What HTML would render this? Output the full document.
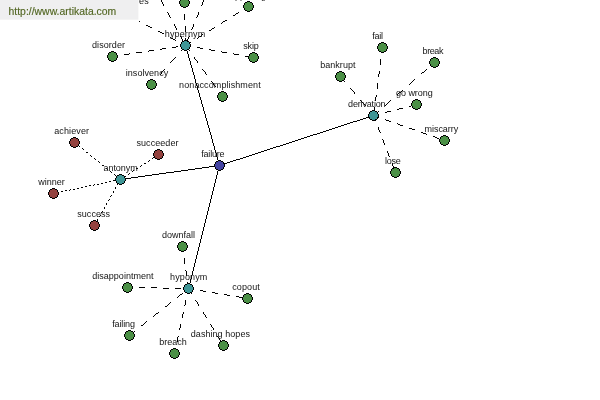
<!DOCTYPE html>
<html><head><meta charset="utf-8"><title>failure</title>
<style>
html,body{margin:0;padding:0;background:#fff;}
body{width:600px;height:400px;overflow:hidden;position:relative;}
svg{position:absolute;left:0;top:0;display:block;will-change:transform;}
text{font-family:"Liberation Sans",sans-serif;font-size:9px;fill:#141414;}
.u{font-size:10.4px;fill:#526622;stroke:#526622;stroke-width:0.15px;}
</style></head><body>
<svg width="600" height="400" viewBox="0 0 600 400">
<g fill="#000" shape-rendering="crispEdges">
<path d="M185 45h1v2h-1zM186 47h1v4h-1zM187 51h1v3h-1zM188 54h1v4h-1zM189 58h1v3h-1zM190 61h1v4h-1zM191 65h1v3h-1zM192 68h1v4h-1zM193 72h1v3h-1zM194 75h1v4h-1zM195 79h1v4h-1zM196 83h1v3h-1zM197 86h1v4h-1zM198 90h1v3h-1zM199 93h1v4h-1zM200 97h1v3h-1zM201 100h1v4h-1zM202 104h1v3h-1zM203 107h1v4h-1zM204 111h1v3h-1zM205 114h1v4h-1zM206 118h1v3h-1zM207 121h1v4h-1zM208 125h1v3h-1zM209 128h1v4h-1zM210 132h1v3h-1zM211 135h1v4h-1zM212 139h1v4h-1zM213 143h1v3h-1zM214 146h1v4h-1zM215 150h1v3h-1zM216 153h1v4h-1zM217 157h1v3h-1zM218 160h1v4h-1zM219 164h1v2h-1z"/>
<path d="M120 179h4v1h-4zM124 178h7v1h-7zM131 177h7v1h-7zM138 176h7v1h-7zM145 175h7v1h-7zM152 174h7v1h-7zM159 173h7v1h-7zM166 172h8v1h-8zM174 171h7v1h-7zM181 170h7v1h-7zM188 169h7v1h-7zM195 168h7v1h-7zM202 167h7v1h-7zM209 166h7v1h-7zM216 165h4v1h-4z"/>
<path d="M219 165h1v2h-1zM218 167h1v4h-1zM217 171h1v4h-1zM216 175h1v4h-1zM215 179h1v4h-1zM214 183h1v4h-1zM213 187h1v4h-1zM212 191h1v4h-1zM211 195h1v4h-1zM210 199h1v4h-1zM209 203h1v4h-1zM208 207h1v4h-1zM207 211h1v4h-1zM206 215h1v4h-1zM205 219h1v4h-1zM204 223h1v4h-1zM203 227h1v4h-1zM202 231h1v4h-1zM201 235h1v4h-1zM200 239h1v4h-1zM199 243h1v4h-1zM198 247h1v4h-1zM197 251h1v4h-1zM196 255h1v4h-1zM195 259h1v4h-1zM194 263h1v4h-1zM193 267h1v4h-1zM192 271h1v4h-1zM191 275h1v4h-1zM190 279h1v4h-1zM189 283h1v4h-1zM188 287h1v2h-1z"/>
<path d="M219 165h2v1h-2zM221 164h3v1h-3zM224 163h3v1h-3zM227 162h3v1h-3zM230 161h3v1h-3zM233 160h3v1h-3zM236 159h4v1h-4zM240 158h3v1h-3zM243 157h3v1h-3zM246 156h3v1h-3zM249 155h3v1h-3zM252 154h3v1h-3zM255 153h3v1h-3zM258 152h3v1h-3zM261 151h3v1h-3zM264 150h3v1h-3zM267 149h3v1h-3zM270 148h3v1h-3zM273 147h3v1h-3zM276 146h4v1h-4zM280 145h3v1h-3zM283 144h3v1h-3zM286 143h3v1h-3zM289 142h3v1h-3zM292 141h3v1h-3zM295 140h3v1h-3zM298 139h3v1h-3zM301 138h3v1h-3zM304 137h3v1h-3zM307 136h3v1h-3zM310 135h3v1h-3zM313 134h4v1h-4zM317 133h3v1h-3zM320 132h3v1h-3zM323 131h3v1h-3zM326 130h3v1h-3zM329 129h3v1h-3zM332 128h3v1h-3zM335 127h3v1h-3zM338 126h3v1h-3zM341 125h3v1h-3zM344 124h3v1h-3zM347 123h3v1h-3zM350 122h3v1h-3zM353 121h4v1h-4zM357 120h3v1h-3zM360 119h3v1h-3zM363 118h3v1h-3zM366 117h3v1h-3zM369 116h3v1h-3zM372 115h2v1h-2z"/>
<path d="M112 56h4v1h-4zM116 55h2v1h-2zM124 54h5v1h-5zM129 53h1v1h-1zM136 52h6v1h-6zM148 51h1v1h-1zM149 50h5v1h-5zM160 49h2v1h-2zM162 48h4v1h-4zM172 47h4v1h-4zM176 46h2v1h-2zM184 45h2v1h-2z"/>
<path d="M185 45h1v1h-1zM184 46h1v1h-1zM183 47h1v1h-1zM182 48h1v2h-1zM181 50h1v1h-1zM175 57h1v1h-1zM174 58h1v1h-1zM173 59h1v1h-1zM172 60h1v1h-1zM171 61h1v1h-1zM170 62h1v1h-1zM164 69h1v1h-1zM163 70h1v1h-1zM162 71h1v1h-1zM161 72h1v2h-1zM160 74h1v1h-1zM154 81h1v1h-1zM153 82h1v1h-1zM152 83h1v1h-1zM151 84h1v1h-1z"/>
<path d="M185 45h1v1h-1zM186 46h1v2h-1zM187 48h1v1h-1zM188 49h1v1h-1zM189 50h1v1h-1zM194 57h1v2h-1zM195 59h1v1h-1zM196 60h1v1h-1zM197 61h1v2h-1zM202 69h1v1h-1zM203 70h1v1h-1zM204 71h1v1h-1zM205 72h1v2h-1zM206 74h1v1h-1zM211 81h1v1h-1zM212 82h1v1h-1zM213 83h1v2h-1zM214 85h1v1h-1zM215 86h1v1h-1zM220 93h1v1h-1zM221 94h1v2h-1zM222 96h1v1h-1z"/>
<path d="M185 45h3v1h-3zM188 46h3v1h-3zM197 47h3v1h-3zM200 48h3v1h-3zM209 49h2v1h-2zM211 50h4v1h-4zM221 51h1v1h-1zM222 52h5v1h-5zM233 53h1v1h-1zM234 54h5v1h-5zM245 56h6v1h-6z"/>
<path d="M184 2h1v6h-1zM184 14h1v6h-1zM185 26h1v6h-1zM185 38h1v6h-1z"/>
<path d="M185 45h1v1h-1zM186 44h2v1h-2zM188 43h2v1h-2zM190 42h1v1h-1zM197 38h1v1h-1zM198 37h1v1h-1zM199 36h2v1h-2zM201 35h1v1h-1zM202 34h1v1h-1zM209 30h2v1h-2zM211 29h1v1h-1zM212 28h2v1h-2zM214 27h1v1h-1zM221 23h1v1h-1zM222 22h1v1h-1zM223 21h2v1h-2zM225 20h2v1h-2zM233 15h2v1h-2zM235 14h1v1h-1zM236 13h2v1h-2zM238 12h1v1h-1zM245 8h1v1h-1zM246 7h2v1h-2zM248 6h1v1h-1z"/>
<path d="M139 21h1v1h-1zM146 25h2v1h-2zM148 26h2v1h-2zM150 27h2v1h-2zM158 31h2v1h-2zM160 32h2v1h-2zM162 33h2v1h-2zM170 37h1v1h-1zM171 38h2v1h-2zM173 39h2v1h-2zM175 40h1v1h-1zM182 43h1v1h-1zM183 44h2v1h-2zM185 45h1v1h-1z"/>
<path d="M161 0h1v2h-1zM162 2h1v2h-1zM163 4h1v2h-1zM167 12h1v1h-1zM168 13h1v2h-1zM169 15h1v2h-1zM170 17h1v1h-1zM174 24h1v2h-1zM175 26h1v2h-1zM176 28h1v2h-1zM180 36h1v1h-1zM181 37h1v2h-1zM182 39h1v2h-1zM183 41h1v1h-1z"/>
<path d="M203 0h1v2h-1zM202 2h1v3h-1zM201 5h1v1h-1zM198 12h1v3h-1zM197 15h1v2h-1zM196 17h1v1h-1zM193 24h1v3h-1zM192 27h1v2h-1zM191 29h1v1h-1zM189 36h1v1h-1zM188 37h1v2h-1zM187 39h1v3h-1z"/>
<path d="M74 142h1v1h-1zM75 143h1v1h-1zM78 145h1v1h-1zM79 146h1v1h-1zM82 148h1v1h-1zM83 149h1v1h-1zM86 152h2v1h-2zM90 155h1v1h-1zM91 156h1v1h-1zM94 158h1v1h-1zM95 159h1v1h-1zM98 161h1v1h-1zM99 162h1v1h-1zM102 165h2v1h-2zM106 168h1v1h-1zM107 169h1v1h-1zM110 171h1v1h-1zM111 172h1v1h-1zM114 174h1v1h-1zM115 175h1v1h-1zM118 177h1v1h-1zM119 178h1v1h-1z"/>
<path d="M120 179h1v1h-1zM121 178h1v1h-1zM124 176h2v1h-2zM128 174h1v1h-1zM129 173h1v1h-1zM132 171h1v1h-1zM133 170h1v1h-1zM136 168h2v1h-2zM140 166h1v1h-1zM141 165h1v1h-1zM144 163h2v1h-2zM148 161h1v1h-1zM149 160h1v1h-1zM152 158h1v1h-1zM153 157h1v1h-1zM156 155h2v1h-2z"/>
<path d="M53 193h2v1h-2zM57 192h2v1h-2zM61 191h2v1h-2zM65 190h2v1h-2zM69 190h1v1h-1zM70 189h1v1h-1zM73 189h2v1h-2zM77 188h2v1h-2zM81 187h2v1h-2zM85 186h2v1h-2zM89 185h2v1h-2zM93 185h1v1h-1zM94 184h1v1h-1zM97 184h2v1h-2zM101 183h2v1h-2zM105 182h2v1h-2zM109 181h2v1h-2zM113 180h2v1h-2zM117 180h1v1h-1zM118 179h1v1h-1z"/>
<path d="M120 179h1v1h-1zM119 180h1v1h-1zM118 183h1v1h-1zM117 184h1v1h-1zM115 187h1v2h-1zM113 191h1v2h-1zM111 195h1v1h-1zM110 196h1v1h-1zM109 199h1v1h-1zM108 200h1v1h-1zM106 203h1v2h-1zM104 207h1v2h-1zM102 211h1v1h-1zM101 212h1v1h-1zM100 215h1v1h-1zM99 216h1v1h-1zM97 219h1v2h-1zM95 223h1v2h-1z"/>
<path d="M182 246h1v4h-1zM183 250h1v2h-1zM184 258h1v6h-1zM185 270h1v1h-1zM186 271h1v5h-1zM187 282h1v3h-1zM188 285h1v3h-1z"/>
<path d="M127 287h6v1h-6zM139 287h6v1h-6zM151 287h6v1h-6zM163 288h6v1h-6zM175 288h6v1h-6zM187 288h2v1h-2z"/>
<path d="M188 288h3v1h-3zM191 289h3v1h-3zM200 290h3v1h-3zM203 291h3v1h-3zM212 292h3v1h-3zM215 293h3v1h-3zM224 294h3v1h-3zM227 295h3v1h-3zM236 296h3v1h-3zM239 297h3v1h-3z"/>
<path d="M129 335h1v1h-1zM130 334h1v1h-1zM131 333h2v1h-2zM133 332h1v1h-1zM134 331h1v1h-1zM141 325h2v1h-2zM143 324h1v1h-1zM144 323h1v1h-1zM145 322h1v1h-1zM146 321h1v1h-1zM153 316h1v1h-1zM154 315h1v1h-1zM155 314h1v1h-1zM156 313h2v1h-2zM158 312h1v1h-1zM165 306h2v1h-2zM167 305h1v1h-1zM168 304h1v1h-1zM169 303h1v1h-1zM170 302h1v1h-1zM177 297h1v1h-1zM178 296h1v1h-1zM179 295h1v1h-1zM180 294h2v1h-2zM182 293h1v1h-1z"/>
<path d="M188 288h1v3h-1zM187 291h1v3h-1zM185 300h1v5h-1zM184 305h1v1h-1zM183 312h1v2h-1zM182 314h1v4h-1zM180 324h1v4h-1zM179 328h1v2h-1zM178 336h1v1h-1zM177 337h1v5h-1zM175 348h1v3h-1zM174 351h1v3h-1z"/>
<path d="M188 288h1v1h-1zM189 289h1v2h-1zM190 291h1v2h-1zM191 293h1v1h-1zM195 300h1v1h-1zM196 301h1v1h-1zM197 302h1v2h-1zM198 304h1v2h-1zM203 312h1v2h-1zM204 314h1v1h-1zM205 315h1v2h-1zM206 317h1v1h-1zM210 324h1v1h-1zM211 325h1v2h-1zM212 327h1v1h-1zM213 328h1v2h-1zM217 336h1v1h-1zM218 337h1v1h-1zM219 338h1v2h-1zM220 340h1v1h-1zM221 341h1v1h-1z"/>
<path d="M340 76h1v1h-1zM341 77h1v1h-1zM342 78h1v1h-1zM343 79h1v2h-1zM344 81h1v1h-1zM350 88h1v1h-1zM351 89h1v1h-1zM352 90h1v1h-1zM353 91h1v1h-1zM354 92h1v2h-1zM360 100h1v1h-1zM361 101h1v1h-1zM362 102h1v1h-1zM363 103h1v1h-1zM364 104h1v1h-1zM365 105h1v1h-1zM370 112h1v1h-1zM371 113h1v1h-1zM372 114h1v1h-1zM373 115h1v1h-1z"/>
<path d="M382 47h1v4h-1zM381 51h1v2h-1zM380 59h1v6h-1zM379 71h1v3h-1zM378 74h1v3h-1zM377 83h1v6h-1zM376 95h1v2h-1zM375 97h1v4h-1zM374 107h1v5h-1zM373 112h1v1h-1z"/>
<path d="M373 115h1v1h-1zM374 114h1v1h-1zM375 113h1v1h-1zM376 112h2v1h-2zM378 111h1v1h-1zM385 105h1v1h-1zM386 104h1v1h-1zM387 103h1v1h-1zM388 102h1v1h-1zM389 101h1v1h-1zM390 100h1v1h-1zM397 94h1v1h-1zM398 93h1v1h-1zM399 92h2v1h-2zM401 91h1v1h-1zM402 90h1v1h-1zM409 84h1v1h-1zM410 83h1v1h-1zM411 82h1v1h-1zM412 81h1v1h-1zM413 80h1v1h-1zM414 79h1v1h-1zM421 73h1v1h-1zM422 72h2v1h-2zM424 71h1v1h-1zM425 70h1v1h-1zM426 69h1v1h-1zM433 63h1v1h-1zM434 62h1v1h-1z"/>
<path d="M373 115h2v1h-2zM375 114h4v1h-4zM385 112h2v1h-2zM387 111h4v1h-4zM397 109h2v1h-2zM399 108h4v1h-4zM409 106h2v1h-2zM411 105h4v1h-4z"/>
<path d="M373 115h2v1h-2zM375 116h3v1h-3zM378 117h1v1h-1zM385 119h1v1h-1zM386 120h3v1h-3zM389 121h2v1h-2zM397 123h1v1h-1zM398 124h2v1h-2zM400 125h3v1h-3zM409 128h3v1h-3zM412 129h3v1h-3zM421 132h2v1h-2zM423 133h3v1h-3zM426 134h1v1h-1zM433 136h2v1h-2zM435 137h2v1h-2zM437 138h2v1h-2z"/>
<path d="M373 115h1v2h-1zM374 117h1v2h-1zM375 119h1v2h-1zM378 127h1v3h-1zM379 130h1v2h-1zM380 132h1v1h-1zM382 139h1v1h-1zM383 140h1v3h-1zM384 143h1v2h-1zM387 151h1v2h-1zM388 153h1v3h-1zM389 156h1v1h-1zM392 163h1v3h-1zM393 166h1v3h-1z"/>
</g><g shape-rendering="crispEdges">
<path fill="#4b9046" d="M111 52h3v1h-3zM109 53h7v1h-7zM109 54h7v1h-7zM108 55h9v1h-9zM108 56h9v1h-9zM108 57h9v1h-9zM109 58h7v1h-7zM109 59h7v1h-7zM111 60h3v1h-3z"/><path fill="#000" d="M111 51h3v1h-3zM109 52h2v1h-2zM114 52h2v1h-2zM108 53h1v1h-1zM116 53h1v1h-1zM108 54h1v1h-1zM116 54h1v1h-1zM107 55h1v1h-1zM117 55h1v1h-1zM107 56h1v1h-1zM117 56h1v1h-1zM107 57h1v1h-1zM117 57h1v1h-1zM108 58h1v1h-1zM116 58h1v1h-1zM108 59h1v1h-1zM116 59h1v1h-1zM109 60h2v1h-2zM114 60h2v1h-2zM111 61h3v1h-3z"/>
<path fill="#4b9046" d="M150 80h3v1h-3zM148 81h7v1h-7zM148 82h7v1h-7zM147 83h9v1h-9zM147 84h9v1h-9zM147 85h9v1h-9zM148 86h7v1h-7zM148 87h7v1h-7zM150 88h3v1h-3z"/><path fill="#000" d="M150 79h3v1h-3zM148 80h2v1h-2zM153 80h2v1h-2zM147 81h1v1h-1zM155 81h1v1h-1zM147 82h1v1h-1zM155 82h1v1h-1zM146 83h1v1h-1zM156 83h1v1h-1zM146 84h1v1h-1zM156 84h1v1h-1zM146 85h1v1h-1zM156 85h1v1h-1zM147 86h1v1h-1zM155 86h1v1h-1zM147 87h1v1h-1zM155 87h1v1h-1zM148 88h2v1h-2zM153 88h2v1h-2zM150 89h3v1h-3z"/>
<path fill="#4b9046" d="M221 92h3v1h-3zM219 93h7v1h-7zM219 94h7v1h-7zM218 95h9v1h-9zM218 96h9v1h-9zM218 97h9v1h-9zM219 98h7v1h-7zM219 99h7v1h-7zM221 100h3v1h-3z"/><path fill="#000" d="M221 91h3v1h-3zM219 92h2v1h-2zM224 92h2v1h-2zM218 93h1v1h-1zM226 93h1v1h-1zM218 94h1v1h-1zM226 94h1v1h-1zM217 95h1v1h-1zM227 95h1v1h-1zM217 96h1v1h-1zM227 96h1v1h-1zM217 97h1v1h-1zM227 97h1v1h-1zM218 98h1v1h-1zM226 98h1v1h-1zM218 99h1v1h-1zM226 99h1v1h-1zM219 100h2v1h-2zM224 100h2v1h-2zM221 101h3v1h-3z"/>
<path fill="#4b9046" d="M252 53h3v1h-3zM250 54h7v1h-7zM250 55h7v1h-7zM249 56h9v1h-9zM249 57h9v1h-9zM249 58h9v1h-9zM250 59h7v1h-7zM250 60h7v1h-7zM252 61h3v1h-3z"/><path fill="#000" d="M252 52h3v1h-3zM250 53h2v1h-2zM255 53h2v1h-2zM249 54h1v1h-1zM257 54h1v1h-1zM249 55h1v1h-1zM257 55h1v1h-1zM248 56h1v1h-1zM258 56h1v1h-1zM248 57h1v1h-1zM258 57h1v1h-1zM248 58h1v1h-1zM258 58h1v1h-1zM249 59h1v1h-1zM257 59h1v1h-1zM249 60h1v1h-1zM257 60h1v1h-1zM250 61h2v1h-2zM255 61h2v1h-2zM252 62h3v1h-3z"/>
<path fill="#4b9046" d="M183 -2h3v1h-3zM181 -1h7v1h-7zM181 0h7v1h-7zM180 1h9v1h-9zM180 2h9v1h-9zM180 3h9v1h-9zM181 4h7v1h-7zM181 5h7v1h-7zM183 6h3v1h-3z"/><path fill="#000" d="M183 -3h3v1h-3zM181 -2h2v1h-2zM186 -2h2v1h-2zM180 -1h1v1h-1zM188 -1h1v1h-1zM180 0h1v1h-1zM188 0h1v1h-1zM179 1h1v1h-1zM189 1h1v1h-1zM179 2h1v1h-1zM189 2h1v1h-1zM179 3h1v1h-1zM189 3h1v1h-1zM180 4h1v1h-1zM188 4h1v1h-1zM180 5h1v1h-1zM188 5h1v1h-1zM181 6h2v1h-2zM186 6h2v1h-2zM183 7h3v1h-3z"/>
<path fill="#4b9046" d="M247 2h3v1h-3zM245 3h7v1h-7zM245 4h7v1h-7zM244 5h9v1h-9zM244 6h9v1h-9zM244 7h9v1h-9zM245 8h7v1h-7zM245 9h7v1h-7zM247 10h3v1h-3z"/><path fill="#000" d="M247 1h3v1h-3zM245 2h2v1h-2zM250 2h2v1h-2zM244 3h1v1h-1zM252 3h1v1h-1zM244 4h1v1h-1zM252 4h1v1h-1zM243 5h1v1h-1zM253 5h1v1h-1zM243 6h1v1h-1zM253 6h1v1h-1zM243 7h1v1h-1zM253 7h1v1h-1zM244 8h1v1h-1zM252 8h1v1h-1zM244 9h1v1h-1zM252 9h1v1h-1zM245 10h2v1h-2zM250 10h2v1h-2zM247 11h3v1h-3z"/>
<path fill="#4b9046" d="M121 8h3v1h-3zM119 9h7v1h-7zM119 10h7v1h-7zM118 11h9v1h-9zM118 12h9v1h-9zM118 13h9v1h-9zM119 14h7v1h-7zM119 15h7v1h-7zM121 16h3v1h-3z"/><path fill="#000" d="M121 7h3v1h-3zM119 8h2v1h-2zM124 8h2v1h-2zM118 9h1v1h-1zM126 9h1v1h-1zM118 10h1v1h-1zM126 10h1v1h-1zM117 11h1v1h-1zM127 11h1v1h-1zM117 12h1v1h-1zM127 12h1v1h-1zM117 13h1v1h-1zM127 13h1v1h-1zM118 14h1v1h-1zM126 14h1v1h-1zM118 15h1v1h-1zM126 15h1v1h-1zM119 16h2v1h-2zM124 16h2v1h-2zM121 17h3v1h-3z"/>
<path fill="#4b9046" d="M153 -16h3v1h-3zM151 -15h7v1h-7zM151 -14h7v1h-7zM150 -13h9v1h-9zM150 -12h9v1h-9zM150 -11h9v1h-9zM151 -10h7v1h-7zM151 -9h7v1h-7zM153 -8h3v1h-3z"/><path fill="#000" d="M153 -17h3v1h-3zM151 -16h2v1h-2zM156 -16h2v1h-2zM150 -15h1v1h-1zM158 -15h1v1h-1zM150 -14h1v1h-1zM158 -14h1v1h-1zM149 -13h1v1h-1zM159 -13h1v1h-1zM149 -12h1v1h-1zM159 -12h1v1h-1zM149 -11h1v1h-1zM159 -11h1v1h-1zM150 -10h1v1h-1zM158 -10h1v1h-1zM150 -9h1v1h-1zM158 -9h1v1h-1zM151 -8h2v1h-2zM156 -8h2v1h-2zM153 -7h3v1h-3z"/>
<path fill="#4b9046" d="M207 -16h3v1h-3zM205 -15h7v1h-7zM205 -14h7v1h-7zM204 -13h9v1h-9zM204 -12h9v1h-9zM204 -11h9v1h-9zM205 -10h7v1h-7zM205 -9h7v1h-7zM207 -8h3v1h-3z"/><path fill="#000" d="M207 -17h3v1h-3zM205 -16h2v1h-2zM210 -16h2v1h-2zM204 -15h1v1h-1zM212 -15h1v1h-1zM204 -14h1v1h-1zM212 -14h1v1h-1zM203 -13h1v1h-1zM213 -13h1v1h-1zM203 -12h1v1h-1zM213 -12h1v1h-1zM203 -11h1v1h-1zM213 -11h1v1h-1zM204 -10h1v1h-1zM212 -10h1v1h-1zM204 -9h1v1h-1zM212 -9h1v1h-1zM205 -8h2v1h-2zM210 -8h2v1h-2zM207 -7h3v1h-3z"/>
<path fill="#94423f" d="M73 138h3v1h-3zM71 139h7v1h-7zM71 140h7v1h-7zM70 141h9v1h-9zM70 142h9v1h-9zM70 143h9v1h-9zM71 144h7v1h-7zM71 145h7v1h-7zM73 146h3v1h-3z"/><path fill="#000" d="M73 137h3v1h-3zM71 138h2v1h-2zM76 138h2v1h-2zM70 139h1v1h-1zM78 139h1v1h-1zM70 140h1v1h-1zM78 140h1v1h-1zM69 141h1v1h-1zM79 141h1v1h-1zM69 142h1v1h-1zM79 142h1v1h-1zM69 143h1v1h-1zM79 143h1v1h-1zM70 144h1v1h-1zM78 144h1v1h-1zM70 145h1v1h-1zM78 145h1v1h-1zM71 146h2v1h-2zM76 146h2v1h-2zM73 147h3v1h-3z"/>
<path fill="#94423f" d="M157 150h3v1h-3zM155 151h7v1h-7zM155 152h7v1h-7zM154 153h9v1h-9zM154 154h9v1h-9zM154 155h9v1h-9zM155 156h7v1h-7zM155 157h7v1h-7zM157 158h3v1h-3z"/><path fill="#000" d="M157 149h3v1h-3zM155 150h2v1h-2zM160 150h2v1h-2zM154 151h1v1h-1zM162 151h1v1h-1zM154 152h1v1h-1zM162 152h1v1h-1zM153 153h1v1h-1zM163 153h1v1h-1zM153 154h1v1h-1zM163 154h1v1h-1zM153 155h1v1h-1zM163 155h1v1h-1zM154 156h1v1h-1zM162 156h1v1h-1zM154 157h1v1h-1zM162 157h1v1h-1zM155 158h2v1h-2zM160 158h2v1h-2zM157 159h3v1h-3z"/>
<path fill="#94423f" d="M52 189h3v1h-3zM50 190h7v1h-7zM50 191h7v1h-7zM49 192h9v1h-9zM49 193h9v1h-9zM49 194h9v1h-9zM50 195h7v1h-7zM50 196h7v1h-7zM52 197h3v1h-3z"/><path fill="#000" d="M52 188h3v1h-3zM50 189h2v1h-2zM55 189h2v1h-2zM49 190h1v1h-1zM57 190h1v1h-1zM49 191h1v1h-1zM57 191h1v1h-1zM48 192h1v1h-1zM58 192h1v1h-1zM48 193h1v1h-1zM58 193h1v1h-1zM48 194h1v1h-1zM58 194h1v1h-1zM49 195h1v1h-1zM57 195h1v1h-1zM49 196h1v1h-1zM57 196h1v1h-1zM50 197h2v1h-2zM55 197h2v1h-2zM52 198h3v1h-3z"/>
<path fill="#94423f" d="M93 221h3v1h-3zM91 222h7v1h-7zM91 223h7v1h-7zM90 224h9v1h-9zM90 225h9v1h-9zM90 226h9v1h-9zM91 227h7v1h-7zM91 228h7v1h-7zM93 229h3v1h-3z"/><path fill="#000" d="M93 220h3v1h-3zM91 221h2v1h-2zM96 221h2v1h-2zM90 222h1v1h-1zM98 222h1v1h-1zM90 223h1v1h-1zM98 223h1v1h-1zM89 224h1v1h-1zM99 224h1v1h-1zM89 225h1v1h-1zM99 225h1v1h-1zM89 226h1v1h-1zM99 226h1v1h-1zM90 227h1v1h-1zM98 227h1v1h-1zM90 228h1v1h-1zM98 228h1v1h-1zM91 229h2v1h-2zM96 229h2v1h-2zM93 230h3v1h-3z"/>
<path fill="#4b9046" d="M181 242h3v1h-3zM179 243h7v1h-7zM179 244h7v1h-7zM178 245h9v1h-9zM178 246h9v1h-9zM178 247h9v1h-9zM179 248h7v1h-7zM179 249h7v1h-7zM181 250h3v1h-3z"/><path fill="#000" d="M181 241h3v1h-3zM179 242h2v1h-2zM184 242h2v1h-2zM178 243h1v1h-1zM186 243h1v1h-1zM178 244h1v1h-1zM186 244h1v1h-1zM177 245h1v1h-1zM187 245h1v1h-1zM177 246h1v1h-1zM187 246h1v1h-1zM177 247h1v1h-1zM187 247h1v1h-1zM178 248h1v1h-1zM186 248h1v1h-1zM178 249h1v1h-1zM186 249h1v1h-1zM179 250h2v1h-2zM184 250h2v1h-2zM181 251h3v1h-3z"/>
<path fill="#4b9046" d="M126 283h3v1h-3zM124 284h7v1h-7zM124 285h7v1h-7zM123 286h9v1h-9zM123 287h9v1h-9zM123 288h9v1h-9zM124 289h7v1h-7zM124 290h7v1h-7zM126 291h3v1h-3z"/><path fill="#000" d="M126 282h3v1h-3zM124 283h2v1h-2zM129 283h2v1h-2zM123 284h1v1h-1zM131 284h1v1h-1zM123 285h1v1h-1zM131 285h1v1h-1zM122 286h1v1h-1zM132 286h1v1h-1zM122 287h1v1h-1zM132 287h1v1h-1zM122 288h1v1h-1zM132 288h1v1h-1zM123 289h1v1h-1zM131 289h1v1h-1zM123 290h1v1h-1zM131 290h1v1h-1zM124 291h2v1h-2zM129 291h2v1h-2zM126 292h3v1h-3z"/>
<path fill="#4b9046" d="M246 294h3v1h-3zM244 295h7v1h-7zM244 296h7v1h-7zM243 297h9v1h-9zM243 298h9v1h-9zM243 299h9v1h-9zM244 300h7v1h-7zM244 301h7v1h-7zM246 302h3v1h-3z"/><path fill="#000" d="M246 293h3v1h-3zM244 294h2v1h-2zM249 294h2v1h-2zM243 295h1v1h-1zM251 295h1v1h-1zM243 296h1v1h-1zM251 296h1v1h-1zM242 297h1v1h-1zM252 297h1v1h-1zM242 298h1v1h-1zM252 298h1v1h-1zM242 299h1v1h-1zM252 299h1v1h-1zM243 300h1v1h-1zM251 300h1v1h-1zM243 301h1v1h-1zM251 301h1v1h-1zM244 302h2v1h-2zM249 302h2v1h-2zM246 303h3v1h-3z"/>
<path fill="#4b9046" d="M128 331h3v1h-3zM126 332h7v1h-7zM126 333h7v1h-7zM125 334h9v1h-9zM125 335h9v1h-9zM125 336h9v1h-9zM126 337h7v1h-7zM126 338h7v1h-7zM128 339h3v1h-3z"/><path fill="#000" d="M128 330h3v1h-3zM126 331h2v1h-2zM131 331h2v1h-2zM125 332h1v1h-1zM133 332h1v1h-1zM125 333h1v1h-1zM133 333h1v1h-1zM124 334h1v1h-1zM134 334h1v1h-1zM124 335h1v1h-1zM134 335h1v1h-1zM124 336h1v1h-1zM134 336h1v1h-1zM125 337h1v1h-1zM133 337h1v1h-1zM125 338h1v1h-1zM133 338h1v1h-1zM126 339h2v1h-2zM131 339h2v1h-2zM128 340h3v1h-3z"/>
<path fill="#4b9046" d="M173 349h3v1h-3zM171 350h7v1h-7zM171 351h7v1h-7zM170 352h9v1h-9zM170 353h9v1h-9zM170 354h9v1h-9zM171 355h7v1h-7zM171 356h7v1h-7zM173 357h3v1h-3z"/><path fill="#000" d="M173 348h3v1h-3zM171 349h2v1h-2zM176 349h2v1h-2zM170 350h1v1h-1zM178 350h1v1h-1zM170 351h1v1h-1zM178 351h1v1h-1zM169 352h1v1h-1zM179 352h1v1h-1zM169 353h1v1h-1zM179 353h1v1h-1zM169 354h1v1h-1zM179 354h1v1h-1zM170 355h1v1h-1zM178 355h1v1h-1zM170 356h1v1h-1zM178 356h1v1h-1zM171 357h2v1h-2zM176 357h2v1h-2zM173 358h3v1h-3z"/>
<path fill="#4b9046" d="M222 341h3v1h-3zM220 342h7v1h-7zM220 343h7v1h-7zM219 344h9v1h-9zM219 345h9v1h-9zM219 346h9v1h-9zM220 347h7v1h-7zM220 348h7v1h-7zM222 349h3v1h-3z"/><path fill="#000" d="M222 340h3v1h-3zM220 341h2v1h-2zM225 341h2v1h-2zM219 342h1v1h-1zM227 342h1v1h-1zM219 343h1v1h-1zM227 343h1v1h-1zM218 344h1v1h-1zM228 344h1v1h-1zM218 345h1v1h-1zM228 345h1v1h-1zM218 346h1v1h-1zM228 346h1v1h-1zM219 347h1v1h-1zM227 347h1v1h-1zM219 348h1v1h-1zM227 348h1v1h-1zM220 349h2v1h-2zM225 349h2v1h-2zM222 350h3v1h-3z"/>
<path fill="#4b9046" d="M339 72h3v1h-3zM337 73h7v1h-7zM337 74h7v1h-7zM336 75h9v1h-9zM336 76h9v1h-9zM336 77h9v1h-9zM337 78h7v1h-7zM337 79h7v1h-7zM339 80h3v1h-3z"/><path fill="#000" d="M339 71h3v1h-3zM337 72h2v1h-2zM342 72h2v1h-2zM336 73h1v1h-1zM344 73h1v1h-1zM336 74h1v1h-1zM344 74h1v1h-1zM335 75h1v1h-1zM345 75h1v1h-1zM335 76h1v1h-1zM345 76h1v1h-1zM335 77h1v1h-1zM345 77h1v1h-1zM336 78h1v1h-1zM344 78h1v1h-1zM336 79h1v1h-1zM344 79h1v1h-1zM337 80h2v1h-2zM342 80h2v1h-2zM339 81h3v1h-3z"/>
<path fill="#4b9046" d="M381 43h3v1h-3zM379 44h7v1h-7zM379 45h7v1h-7zM378 46h9v1h-9zM378 47h9v1h-9zM378 48h9v1h-9zM379 49h7v1h-7zM379 50h7v1h-7zM381 51h3v1h-3z"/><path fill="#000" d="M381 42h3v1h-3zM379 43h2v1h-2zM384 43h2v1h-2zM378 44h1v1h-1zM386 44h1v1h-1zM378 45h1v1h-1zM386 45h1v1h-1zM377 46h1v1h-1zM387 46h1v1h-1zM377 47h1v1h-1zM387 47h1v1h-1zM377 48h1v1h-1zM387 48h1v1h-1zM378 49h1v1h-1zM386 49h1v1h-1zM378 50h1v1h-1zM386 50h1v1h-1zM379 51h2v1h-2zM384 51h2v1h-2zM381 52h3v1h-3z"/>
<path fill="#4b9046" d="M433 58h3v1h-3zM431 59h7v1h-7zM431 60h7v1h-7zM430 61h9v1h-9zM430 62h9v1h-9zM430 63h9v1h-9zM431 64h7v1h-7zM431 65h7v1h-7zM433 66h3v1h-3z"/><path fill="#000" d="M433 57h3v1h-3zM431 58h2v1h-2zM436 58h2v1h-2zM430 59h1v1h-1zM438 59h1v1h-1zM430 60h1v1h-1zM438 60h1v1h-1zM429 61h1v1h-1zM439 61h1v1h-1zM429 62h1v1h-1zM439 62h1v1h-1zM429 63h1v1h-1zM439 63h1v1h-1zM430 64h1v1h-1zM438 64h1v1h-1zM430 65h1v1h-1zM438 65h1v1h-1zM431 66h2v1h-2zM436 66h2v1h-2zM433 67h3v1h-3z"/>
<path fill="#4b9046" d="M415 100h3v1h-3zM413 101h7v1h-7zM413 102h7v1h-7zM412 103h9v1h-9zM412 104h9v1h-9zM412 105h9v1h-9zM413 106h7v1h-7zM413 107h7v1h-7zM415 108h3v1h-3z"/><path fill="#000" d="M415 99h3v1h-3zM413 100h2v1h-2zM418 100h2v1h-2zM412 101h1v1h-1zM420 101h1v1h-1zM412 102h1v1h-1zM420 102h1v1h-1zM411 103h1v1h-1zM421 103h1v1h-1zM411 104h1v1h-1zM421 104h1v1h-1zM411 105h1v1h-1zM421 105h1v1h-1zM412 106h1v1h-1zM420 106h1v1h-1zM412 107h1v1h-1zM420 107h1v1h-1zM413 108h2v1h-2zM418 108h2v1h-2zM415 109h3v1h-3z"/>
<path fill="#4b9046" d="M443 136h3v1h-3zM441 137h7v1h-7zM441 138h7v1h-7zM440 139h9v1h-9zM440 140h9v1h-9zM440 141h9v1h-9zM441 142h7v1h-7zM441 143h7v1h-7zM443 144h3v1h-3z"/><path fill="#000" d="M443 135h3v1h-3zM441 136h2v1h-2zM446 136h2v1h-2zM440 137h1v1h-1zM448 137h1v1h-1zM440 138h1v1h-1zM448 138h1v1h-1zM439 139h1v1h-1zM449 139h1v1h-1zM439 140h1v1h-1zM449 140h1v1h-1zM439 141h1v1h-1zM449 141h1v1h-1zM440 142h1v1h-1zM448 142h1v1h-1zM440 143h1v1h-1zM448 143h1v1h-1zM441 144h2v1h-2zM446 144h2v1h-2zM443 145h3v1h-3z"/>
<path fill="#4b9046" d="M394 168h3v1h-3zM392 169h7v1h-7zM392 170h7v1h-7zM391 171h9v1h-9zM391 172h9v1h-9zM391 173h9v1h-9zM392 174h7v1h-7zM392 175h7v1h-7zM394 176h3v1h-3z"/><path fill="#000" d="M394 167h3v1h-3zM392 168h2v1h-2zM397 168h2v1h-2zM391 169h1v1h-1zM399 169h1v1h-1zM391 170h1v1h-1zM399 170h1v1h-1zM390 171h1v1h-1zM400 171h1v1h-1zM390 172h1v1h-1zM400 172h1v1h-1zM390 173h1v1h-1zM400 173h1v1h-1zM391 174h1v1h-1zM399 174h1v1h-1zM391 175h1v1h-1zM399 175h1v1h-1zM392 176h2v1h-2zM397 176h2v1h-2zM394 177h3v1h-3z"/>
<path fill="#4444a4" d="M218 161h3v1h-3zM216 162h7v1h-7zM216 163h7v1h-7zM215 164h9v1h-9zM215 165h9v1h-9zM215 166h9v1h-9zM216 167h7v1h-7zM216 168h7v1h-7zM218 169h3v1h-3z"/><path fill="#000" d="M218 160h3v1h-3zM216 161h2v1h-2zM221 161h2v1h-2zM215 162h1v1h-1zM223 162h1v1h-1zM215 163h1v1h-1zM223 163h1v1h-1zM214 164h1v1h-1zM224 164h1v1h-1zM214 165h1v1h-1zM224 165h1v1h-1zM214 166h1v1h-1zM224 166h1v1h-1zM215 167h1v1h-1zM223 167h1v1h-1zM215 168h1v1h-1zM223 168h1v1h-1zM216 169h2v1h-2zM221 169h2v1h-2zM218 170h3v1h-3z"/>
<path fill="#3f9696" d="M184 41h3v1h-3zM182 42h7v1h-7zM182 43h7v1h-7zM181 44h9v1h-9zM181 45h9v1h-9zM181 46h9v1h-9zM182 47h7v1h-7zM182 48h7v1h-7zM184 49h3v1h-3z"/><path fill="#000" d="M184 40h3v1h-3zM182 41h2v1h-2zM187 41h2v1h-2zM181 42h1v1h-1zM189 42h1v1h-1zM181 43h1v1h-1zM189 43h1v1h-1zM180 44h1v1h-1zM190 44h1v1h-1zM180 45h1v1h-1zM190 45h1v1h-1zM180 46h1v1h-1zM190 46h1v1h-1zM181 47h1v1h-1zM189 47h1v1h-1zM181 48h1v1h-1zM189 48h1v1h-1zM182 49h2v1h-2zM187 49h2v1h-2zM184 50h3v1h-3z"/>
<path fill="#3f9696" d="M119 175h3v1h-3zM117 176h7v1h-7zM117 177h7v1h-7zM116 178h9v1h-9zM116 179h9v1h-9zM116 180h9v1h-9zM117 181h7v1h-7zM117 182h7v1h-7zM119 183h3v1h-3z"/><path fill="#000" d="M119 174h3v1h-3zM117 175h2v1h-2zM122 175h2v1h-2zM116 176h1v1h-1zM124 176h1v1h-1zM116 177h1v1h-1zM124 177h1v1h-1zM115 178h1v1h-1zM125 178h1v1h-1zM115 179h1v1h-1zM125 179h1v1h-1zM115 180h1v1h-1zM125 180h1v1h-1zM116 181h1v1h-1zM124 181h1v1h-1zM116 182h1v1h-1zM124 182h1v1h-1zM117 183h2v1h-2zM122 183h2v1h-2zM119 184h3v1h-3z"/>
<path fill="#3f9696" d="M187 284h3v1h-3zM185 285h7v1h-7zM185 286h7v1h-7zM184 287h9v1h-9zM184 288h9v1h-9zM184 289h9v1h-9zM185 290h7v1h-7zM185 291h7v1h-7zM187 292h3v1h-3z"/><path fill="#000" d="M187 283h3v1h-3zM185 284h2v1h-2zM190 284h2v1h-2zM184 285h1v1h-1zM192 285h1v1h-1zM184 286h1v1h-1zM192 286h1v1h-1zM183 287h1v1h-1zM193 287h1v1h-1zM183 288h1v1h-1zM193 288h1v1h-1zM183 289h1v1h-1zM193 289h1v1h-1zM184 290h1v1h-1zM192 290h1v1h-1zM184 291h1v1h-1zM192 291h1v1h-1zM185 292h2v1h-2zM190 292h2v1h-2zM187 293h3v1h-3z"/>
<path fill="#3f9696" d="M372 111h3v1h-3zM370 112h7v1h-7zM370 113h7v1h-7zM369 114h9v1h-9zM369 115h9v1h-9zM369 116h9v1h-9zM370 117h7v1h-7zM370 118h7v1h-7zM372 119h3v1h-3z"/><path fill="#000" d="M372 110h3v1h-3zM370 111h2v1h-2zM375 111h2v1h-2zM369 112h1v1h-1zM377 112h1v1h-1zM369 113h1v1h-1zM377 113h1v1h-1zM368 114h1v1h-1zM378 114h1v1h-1zM368 115h1v1h-1zM378 115h1v1h-1zM368 116h1v1h-1zM378 116h1v1h-1zM369 117h1v1h-1zM377 117h1v1h-1zM369 118h1v1h-1zM377 118h1v1h-1zM370 119h2v1h-2zM375 119h2v1h-2zM372 120h3v1h-3z"/>
</g><g>
<text x="92" y="48.0" textLength="33.00" lengthAdjust="spacing">disorder</text>
<text x="125.75" y="76.0" textLength="42.45" lengthAdjust="spacing">insolvency</text>
<text x="179.1" y="88.0" textLength="81.55" lengthAdjust="spacing">nonaccomplishment</text>
<text x="243.3" y="49.0" textLength="15.45" lengthAdjust="spacing">skip</text>
<text x="225.4" y="-1.2" textLength="40.60" lengthAdjust="spacing">happening</text>
<text x="89.5" y="4.4">circumstanc<tspan x="139 144.3">es</tspan></text>
<text x="54.25" y="134.0" textLength="34.75" lengthAdjust="spacing">achiever</text>
<text x="136.5" y="146.0" textLength="42.00" lengthAdjust="spacing">succeeder</text>
<text x="38.25" y="185.0" textLength="26.55" lengthAdjust="spacing">winner</text>
<text x="77.25" y="217.0" textLength="32.75" lengthAdjust="spacing">success</text>
<text x="162" y="238.0" textLength="33.00" lengthAdjust="spacing">downfall</text>
<text x="92.2" y="279.0" textLength="61.35" lengthAdjust="spacing">disappointment</text>
<text x="232.3" y="290.0" textLength="27.45" lengthAdjust="spacing">copout</text>
<text x="112.2" y="327.0" textLength="22.80" lengthAdjust="spacing">failing</text>
<text x="159.3" y="345.0" textLength="27.45" lengthAdjust="spacing">breach</text>
<text x="190.75" y="337.0" textLength="59.25" lengthAdjust="spacing">dashing hopes</text>
<text x="320.2" y="68.0" textLength="35.30" lengthAdjust="spacing">bankrupt</text>
<text x="372.25" y="39.0" textLength="10.75" lengthAdjust="spacing">fail</text>
<text x="422.5" y="54.0" textLength="21.00" lengthAdjust="spacing">break</text>
<text x="396" y="96.0" textLength="36.75" lengthAdjust="spacing">go wrong</text>
<text x="424.5" y="132.0" textLength="33.75" lengthAdjust="spacing">miscarry</text>
<text x="385" y="164.0" textLength="15.75" lengthAdjust="spacing">lose</text>
<text x="201.25" y="157.0" textLength="23.25" lengthAdjust="spacing">failure</text>
<text x="164.75" y="37.0" textLength="40.50" lengthAdjust="spacing">hypernym</text>
<text x="103.5" y="171.0" textLength="34.20" lengthAdjust="spacing">antonym</text>
<text x="170" y="280.0" textLength="37.30" lengthAdjust="spacing">hyponym</text>
<text x="348.1" y="107.0" textLength="37.50" lengthAdjust="spacing">derivation</text>
</g>
<rect x="0" y="0" width="138.4" height="19.7" fill="#efeff0"/>
<text class="u" x="8.5" y="14.7" textLength="107.75" lengthAdjust="spacing">http://www.artikata.com</text>
</svg>
</body></html>
